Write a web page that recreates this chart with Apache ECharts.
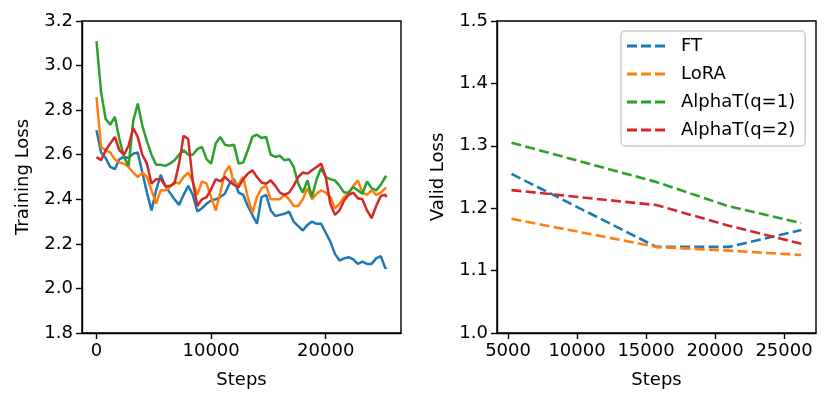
<!DOCTYPE html>
<html>
<head>
<meta charset="utf-8">
<script src="https://cdn.jsdelivr.net/npm/echarts@6/dist/echarts.min.js"></script>
<style>
  html, body { margin: 0; padding: 0; background: #fff; }
  #chart { width: 830px; height: 404px; }
</style>
</head>
<body>
<div id="chart"></div>
<script>
var colors = ["#1f77b4", "#ff7f0e", "#2ca02c", "#d62728"];
var names = ["FT", "LoRA", "AlphaT(q=1)", "AlphaT(q=2)"];

// training loss
var steps = [0,400,800,1200,1600,2000,2400,2800,3200,3600,4000,4400,4800,5200,5600,6000,
  6400,6800,7200,7600,8000,8400,8800,9200,9600,10000,10400,10800,11200,11600,12000,12400,
  12800,13200,13600,14000,14400,14800,15200,15600,16000,16400,16800,17200,17600,18000,18400,18800,
  19200,19600,20000,20400,20800,21200,21600,22000,22400,22800,23200,23600,24000,24400,24800,25200,25300];

var trainFT = [2.71,2.61,2.585,2.545,2.535,2.58,2.59,2.585,2.605,2.61,2.52,2.43,2.35,2.44,2.51,2.46,
  2.43,2.40,2.375,2.42,2.46,2.42,2.345,2.36,2.38,2.395,2.40,2.41,2.425,2.47,2.49,2.43,
  2.42,2.37,2.33,2.29,2.41,2.42,2.35,2.325,2.33,2.335,2.345,2.30,2.28,2.26,2.285,2.30,
  2.29,2.29,2.25,2.21,2.155,2.125,2.135,2.14,2.13,2.11,2.12,2.11,2.11,2.135,2.145,2.09,2.095];

var trainLoRA = [2.86,2.635,2.62,2.61,2.58,2.565,2.56,2.545,2.52,2.50,2.52,2.50,2.44,2.38,2.44,2.44,
  2.455,2.478,2.47,2.50,2.52,2.48,2.42,2.48,2.47,2.41,2.35,2.43,2.52,2.55,2.47,2.47,
  2.50,2.41,2.34,2.41,2.45,2.46,2.40,2.40,2.40,2.42,2.40,2.37,2.37,2.40,2.45,2.40,
  2.425,2.44,2.43,2.41,2.36,2.38,2.41,2.43,2.46,2.485,2.43,2.42,2.44,2.42,2.43,2.45,2.45];

var trainQ1 = [3.11,2.88,2.76,2.735,2.77,2.67,2.59,2.55,2.75,2.83,2.73,2.66,2.60,2.555,2.555,2.55,
  2.56,2.575,2.60,2.62,2.60,2.60,2.625,2.635,2.58,2.56,2.65,2.68,2.645,2.64,2.645,2.56,
  2.565,2.62,2.68,2.69,2.675,2.68,2.60,2.59,2.595,2.575,2.58,2.545,2.47,2.43,2.485,2.41,
  2.49,2.54,2.50,2.49,2.485,2.46,2.43,2.43,2.455,2.44,2.425,2.48,2.45,2.44,2.465,2.50,2.505];

var trainQ2 = [2.59,2.575,2.62,2.65,2.68,2.62,2.60,2.64,2.72,2.68,2.60,2.56,2.47,2.49,2.49,2.46,
  2.46,2.47,2.56,2.685,2.67,2.48,2.37,2.40,2.41,2.445,2.49,2.48,2.50,2.48,2.465,2.455,
  2.49,2.515,2.53,2.50,2.475,2.47,2.485,2.46,2.43,2.42,2.43,2.46,2.50,2.52,2.515,2.53,
  2.545,2.56,2.50,2.38,2.33,2.35,2.395,2.42,2.43,2.405,2.40,2.35,2.315,2.37,2.415,2.42,2.41];

// validation loss, right panel
var validSteps = [5250, 15750, 21000, 26250];
var validFT = [1.255, 1.138, 1.138, 1.165];
var validLoRA = [1.183, 1.138, 1.132, 1.125];
var validQ1 = [1.305, 1.242, 1.203, 1.176];
var validQ2 = [1.229, 1.205, 1.172, 1.143];

var trainTicks = [0, 10000, 20000];
var validTicks = [5000, 10000, 15000, 20000, 25000];

function pairs(xs, ys) {
  var out = [];
  for (var i = 0; i < ys.length; i++) out.push([xs[i], ys[i]]);
  return out;
}

var font = "DejaVu Sans";
var black = "#000";

function xAxisFor(idx, min, max, ticks) {
  return {
    type: "value", gridIndex: idx, min: min, max: max,
    name: "Steps", nameLocation: "middle", nameGap: 38,
    nameTextStyle: { fontFamily: font, fontSize: 18, color: black },
    splitLine: { show: false },
    axisLine: { show: true, onZero: false, lineStyle: { color: black, width: 1.4 } },
    axisTick: { show: true, length: 6, customValues: ticks, lineStyle: { color: black, width: 1.4 } },
    axisLabel: {
      customValues: ticks, margin: 9, fontFamily: font, fontSize: 18, color: black,
      formatter: function (v) { return String(v); }
    }
  };
}

function yAxisFor(idx, min, max, step, title) {
  return {
    type: "value", gridIndex: idx, min: min, max: max, interval: step,
    name: title, nameLocation: "middle", nameGap: 50,
    nameTextStyle: { fontFamily: font, fontSize: 18, color: black },
    splitLine: { show: false },
    axisLine: { show: true, onZero: false, lineStyle: { color: black, width: 1.4 } },
    axisTick: { show: true, length: 6, lineStyle: { color: black, width: 1.4 } },
    axisLabel: {
      margin: 9, fontFamily: font, fontSize: 18, color: black,
      formatter: function (v) { return v.toFixed(1); }
    }
  };
}

var trainData = [trainFT, trainLoRA, trainQ1, trainQ2];
var validData = [validFT, validLoRA, validQ1, validQ2];
var series = [];

for (var i = 0; i < 4; i++) {
  series.push({
    name: names[i] + " train", type: "line", xAxisIndex: 0, yAxisIndex: 0,
    showSymbol: false, silent: true,
    lineStyle: { color: colors[i], width: 2.5 },
    itemStyle: { color: colors[i] },
    data: pairs(steps, trainData[i])
  });
}
for (var j = 0; j < 4; j++) {
  series.push({
    name: names[j], type: "line", xAxisIndex: 1, yAxisIndex: 1,
    showSymbol: false, silent: true,
    lineStyle: { color: colors[j], width: 2.6, type: [10, 4.3] },
    itemStyle: { color: colors[j] },
    data: pairs(validSteps, validData[j])
  });
}

var chart = echarts.init(document.getElementById("chart"), null, { renderer: "canvas" });
chart.setOption({
  animation: false,
  backgroundColor: "#fff",
  grid: [
    { left: 82, top: 21, width: 319, height: 312, show: true, borderColor: black, borderWidth: 1.4, backgroundColor: "transparent" },
    { left: 497, top: 21, width: 319, height: 312, show: true, borderColor: black, borderWidth: 1.4, backgroundColor: "transparent" }
  ],
  xAxis: [
    xAxisFor(0, -1265, 26565, trainTicks),
    xAxisFor(1, 4200, 27315, validTicks)
  ],
  yAxis: [
    yAxisFor(0, 1.8, 3.2, 0.2, "Training Loss"),
    yAxisFor(1, 1.0, 1.5, 0.1, "Valid Loss")
  ],
  legend: {
    data: names,
    orient: "vertical",
    left: 621, top: 31,
    padding: [5, 10, 6, 6],
    itemGap: 8,
    itemWidth: 38, itemHeight: 3,
    icon: "path://M0,0h10v3h-10zM14,0h10v3h-10zM28,0h10v3h-10z",
    backgroundColor: "rgba(255,255,255,0.8)",
    borderColor: "#cccccc", borderWidth: 1.5, borderRadius: 4,
    textStyle: { fontFamily: font, fontSize: 18, color: black, lineHeight: 20, padding: [0, 0, 0, 11] }
  },
  series: series
});
</script>
</body>
</html>
